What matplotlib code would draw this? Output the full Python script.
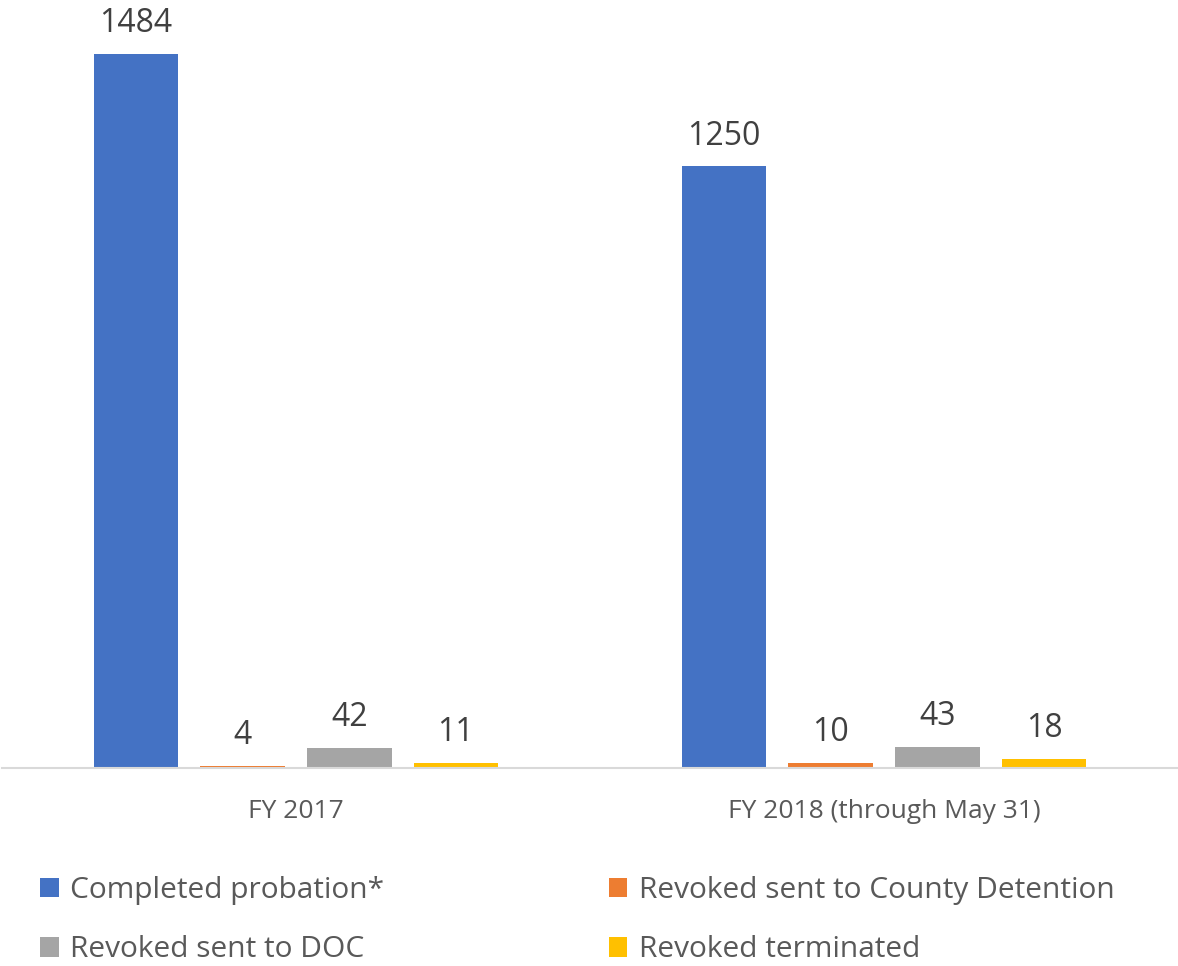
import matplotlib
matplotlib.use("Agg")
import matplotlib.pyplot as plt
import numpy as np

categories = ["FY 2017", "FY 2018 (through May 31)"]
series_names = ["Completed probation*", "Revoked sent to County Detention",
                "Revoked sent to DOC", "Revoked terminated"]
completed = [1484, 1250]
county = [4, 10]
doc = [42, 43]
terminated = [11, 18]
colors = ["#4472C4", "#ED7D31", "#A5A5A5", "#FFC000"]

plt.rcParams['font.family'] = ['Open Sans', 'DejaVu Sans']

fig = plt.figure(figsize=(11.78, 9.66), dpi=100)
ax = fig.add_axes([2/1178, 1 - 768/966, 1176/1178, 768/966])

x = np.arange(len(categories))
width = 0.143
offsets = [-0.272, -0.091, 0.091, 0.272]
all_series = [completed, county, doc, terminated]
bars = []
for vals, off, c, name in zip(all_series, offsets, colors, series_names):
    b = ax.bar(x + off, vals, width, color=c, label=name, linewidth=0)
    bars.append(b)
    ax.bar_label(b, labels=[str(v) for v in vals], padding=10, fontsize=23, color='#404040')

ax.set_xlim(-0.5, 1.5)
ax.set_ylim(0, 1596)
ax.set_xticks(x)
ax.set_xticklabels(categories, fontsize=19, color='#595959')
ax.tick_params(axis='x', length=0, pad=22)
ax.set_yticks([])
for s in ['top', 'right', 'left']:
    ax.spines[s].set_visible(False)
ax.spines['bottom'].set_color('#D9D9D9')
ax.spines['bottom'].set_linewidth(1.5)

handles = [bars[0], bars[1], bars[2], bars[3]]
labels = series_names
order = [0, 2, 1, 3]
leg = fig.legend([handles[i] for i in order], [labels[i] for i in order],
                 ncol=2, loc='upper left', bbox_to_anchor=(40/1178, 1 - 876/966),
                 frameon=False, fontsize=21.5, labelcolor='#595959',
                 handlelength=0.62, handleheight=0.62, handletextpad=0.4,
                 columnspacing=7.5, labelspacing=1.02, borderpad=0, borderaxespad=0)

fig.savefig("out.png", dpi=100)
